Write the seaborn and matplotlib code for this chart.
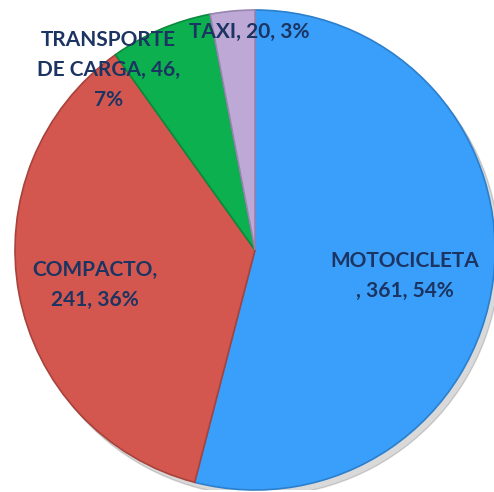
import matplotlib
matplotlib.use("Agg")
import matplotlib.pyplot as plt
import seaborn as sns

categories = ["MOTOCICLETA", "COMPACTO", "TRANSPORTE DE CARGA", "TAXI"]
values = [361, 241, 46, 20]
percents = ["54%", "36%", "7%", "3%"]
label_texts = [
    "MOTOCICLETA\n, 361, 54%",
    "COMPACTO,\n241, 36%",
    "TRANSPORTE\nDE CARGA, 46,\n7%",
    "TAXI, 20, 3%",
]
colors = ["#3A9FFA", "#D3574F", "#0DB04F", "#BDA8D6"]
edge_colors = ["#2C7FCC", "#A8423B", "#0A8A3D", "#9884B0"]

sns.set_theme(style="white")
plt.rcParams['font.family'] = ['Lato', 'DejaVu Sans']

W, H = 494, 492
fig = plt.figure(figsize=(W / 100, H / 100), dpi=100)
R = 240
cx, cy = 255, 242
ax = fig.add_axes([(cx - R) / W, (cy - R) / H, 2 * R / W, 2 * R / H])

# soft shadow
shadow = plt.Circle((0.02, -0.025), 1.0, color="#000000", alpha=0.15, zorder=0)
ax.add_patch(shadow)

wedges, _ = ax.pie(values, colors=colors, startangle=90, counterclock=False,
                   wedgeprops=dict(linewidth=1.2, zorder=2))
for w, ec in zip(wedges, edge_colors):
    w.set_edgecolor(ec)

# label positions (axes fraction)
pos = [(0.8125, 0.446), (0.167, 0.427), (0.195, 0.875), (0.488, 0.955)]
for t, (x, y) in zip(label_texts, pos):
    ax.text(x, y, t, transform=ax.transAxes, ha="center", va="center",
            fontsize=15, fontweight="bold", color="#1C3461", linespacing=1.65,
            zorder=5)

ax.set_xlim(-1, 1)
ax.set_ylim(-1, 1)
ax.set_aspect("auto")
ax.axis("off")
fig.savefig("out.png", dpi=100, facecolor="white")
